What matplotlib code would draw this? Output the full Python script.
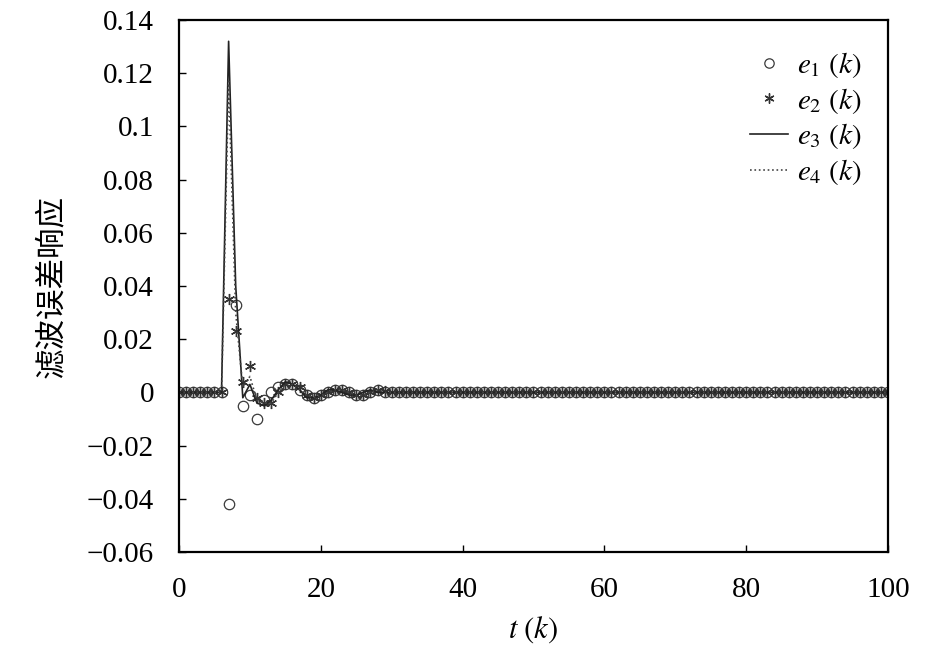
import matplotlib
matplotlib.use("Agg")
import matplotlib.pyplot as plt
import numpy as np

plt.rcParams['font.family'] = ['Liberation Serif', 'Noto Sans CJK SC']
plt.rcParams['mathtext.fontset'] = 'stix'
plt.rcParams['axes.unicode_minus'] = True

# sample index k = 0..100
k = np.arange(0, 101)

# transient part (k = 0..30), flat at zero afterwards
e1_head = [0, 0, 0, 0, 0, 0, 0, -0.042, 0.033, -0.005, -0.001, -0.010, -0.003,
           0.000, 0.002, 0.003, 0.003, 0.001, -0.001, -0.002, -0.001, 0.000,
           0.001, 0.001, 0.000, -0.001, -0.001, 0.000, 0.001, 0.000, 0.000]
e2_head = [0, 0, 0, 0, 0, 0, 0, 0.035, 0.023, 0.004, 0.010, -0.002, -0.004,
           -0.004, 0.000, 0.003, 0.003, 0.002, -0.001, -0.002, -0.001, 0.000,
           0.001, 0.001, 0.000, -0.001, -0.001, 0.000, 0.001, 0.0005, 0.000]
e3_head = [0, 0, 0, 0, 0, 0, 0, 0.132, 0.040, -0.002, 0.003, -0.004, -0.005,
           -0.003, 0.001, 0.004, 0.003, 0.001, -0.002, -0.002, -0.001, 0.001,
           0.001, 0.000, -0.001, -0.001, 0.000, 0.001, 0.000, 0.000, 0.000]
e4_head = [0, 0, 0, 0, 0, 0, 0, 0.117, 0.030, 0.002, 0.006, -0.003, -0.004,
           -0.004, 0.000, 0.003, 0.003, 0.001, -0.001, -0.002, -0.001, 0.000,
           0.001, 0.001, 0.000, -0.001, -0.001, 0.000, 0.001, 0.000, 0.000]
tail = [0.0] * (len(k) - len(e1_head))

e1 = np.array(e1_head + tail)
e2 = np.array(e2_head + tail)
e3 = np.array(e3_head + tail)
e4 = np.array(e4_head + tail)

fig = plt.figure(figsize=(9.45, 6.56), dpi=100)
ax = fig.add_axes([0.1894, 0.1585, 0.7503, 0.811])

ax.plot(k, e1, linestyle='none', marker='o', markersize=7.5, markerfacecolor='none',
        markeredgecolor='#3a3a3a', markeredgewidth=0.9, label=r'$e_1\ (k)$')
ax.plot(k, e2, linestyle='none', marker=(6, 2, 0), markersize=8,
        color='#333333', markeredgewidth=1.0, label=r'$e_2\ (k)$')
ax.plot(k, e3, '-', color='#222222', linewidth=1.2, label=r'$e_3\ (k)$')
ax.plot(k, e4, ':', color='#444444', linewidth=1.2, label=r'$e_4\ (k)$')

ax.set_xlim(0, 100)
ax.set_ylim(-0.06, 0.14)
ax.set_xticks([0, 20, 40, 60, 80, 100])
ax.set_yticks([-0.06, -0.04, -0.02, 0, 0.02, 0.04, 0.06, 0.08, 0.1, 0.12, 0.14])
ax.set_yticklabels(['\u22120.06', '\u22120.04', '\u22120.02', '0', '0.02', '0.04',
                    '0.06', '0.08', '0.1', '0.12', '0.14'])
ax.tick_params(direction='in', length=5, width=1.0, labelsize=21, pad=18,
               top=False, right=False)
for sp in ax.spines.values():
    sp.set_linewidth(1.6)

ax.set_xlabel(r'$t\ (k)$', fontsize=22, labelpad=8)
ax.set_ylabel('滤波误差响应', fontsize=22, labelpad=14,
              family=['Noto Sans CJK SC', 'Liberation Serif'])

ax.legend(loc='upper right', bbox_to_anchor=(0.962, 0.944), frameon=False,
          fontsize=21, handlelength=1.3, handletextpad=0.3, labelspacing=0.2,
          borderpad=0, borderaxespad=0, markerscale=0.9)

fig.savefig('out.png', dpi=100)
